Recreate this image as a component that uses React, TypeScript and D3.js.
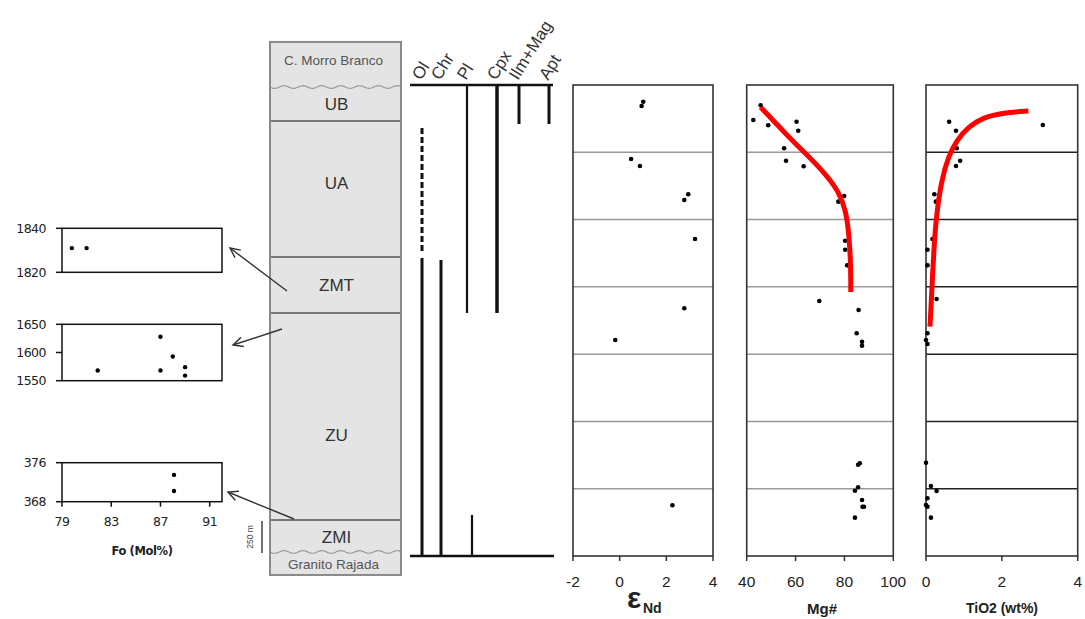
import React from 'react';
import * as d3 from 'd3';

// ---------- DATA ----------
// stratigraphic units (heights in m)
const unitNames = ['C. Morro Branco', 'UB', 'UA', 'ZMT', 'ZU', 'ZMI', 'Granito Rajada'];
const unitTops = [3820, 3485, 3232, 2222, 1806, 268, 30];
const unitBottoms = [3485, 3232, 2222, 1806, 268, 30, -141];

// mineral occurrence segments
const minerals = ['Ol', 'Chr', 'Pl', 'Cpx', 'Ilm+Mag', 'Apt'];
const segMineral = ['Ol', 'Ol', 'Chr', 'Pl', 'Pl', 'Cpx', 'Ilm+Mag', 'Apt'];
const segTop = [3180, 2214, 2200, 3500, 305, 3500, 3500, 3500];
const segBottom = [2259, 0, 0, 1806, 0, 1806, 3210, 3210];
const segDashed = [true, false, false, false, false, false, false, false];

// eps Nd
const ndValue = [1.01, 0.94, 0.49, 0.87, 2.94, 2.77, 3.23, 2.77, -0.19, 2.26];
const ndHeight = [3376, 3344, 2950, 2898, 2688, 2645, 2356, 1841, 1605, 377];

// Mg#
const mgValue = [45.7, 42.7, 48.8, 60.4, 61.1, 55.3, 56.1, 63.3, 77.5, 79.9, 80.3, 80.3, 81.1, 69.7, 85.8, 85.0, 87.2, 87.2, 86.3, 85.6, 85.6, 84.3, 87.2, 87.4, 88.0, 84.3];
const mgHeight = [3349, 3240, 3201, 3227, 3160, 3030, 2937, 2896, 2633, 2675, 2343, 2276, 2160, 1895, 1828, 1655, 1592, 1563, 689, 678, 511, 485, 416, 366, 366, 285];
const mgTrendValue = [45.7, 56.9, 63.9, 72.0, 77.6, 80.7, 81.9, 82.5, 82.6, 82.6];
const mgTrendHeight = [3335, 3120, 2994, 2845, 2712, 2563, 2377, 2192, 2050, 1961];

// TiO2
const tiValue = [0.61, 0.79, 3.08, 0.81, 0.90, 0.79, 0.22, 0.26, 0.17, 0.04, 0.04, 0.28, 0.04, 0.0, 0.04, 0.0, 0.13, 0.28, 0.04, 0.0, 0.04, 0.13];
const tiHeight = [3227, 3160, 3203, 3030, 2937, 2898, 2688, 2633, 2356, 2276, 2160, 1910, 1655, 1605, 1575, 693, 520, 483, 429, 379, 366, 285];
const tiTrendValue = [0.105, 0.15, 0.21, 0.28, 0.41, 0.59, 0.81, 1.12, 1.51, 2.04, 2.70];
const tiTrendHeight = [1704, 1952, 2299, 2547, 2794, 2968, 3091, 3190, 3260, 3294, 3307];

// Fo (Mol%) insets
const foTicks = [79, 83, 87, 91];
const foTopFo = [79.8, 81.0];
const foTopH = [1831, 1831];
const foTopTicks = [1840, 1820];
const foMidFo = [81.9, 87.0, 87.0, 88.0, 89.0, 89.0];
const foMidH = [1568, 1628, 1568, 1593, 1574, 1559];
const foMidTicks = [1650, 1600, 1550];
const foBotFo = [88.1, 88.1];
const foBotH = [373.5, 370.2];
const foBotTicks = [376, 368];

const ndTicks = [-2, 0, 2, 4];
const mgTicks = [40, 60, 80, 100];
const tiTicks = [0, 2, 4];
const gridHeights = [500, 1000, 1500, 2000, 2500, 3000];

// ---------- LAYOUT ----------
const Y = d3.scaleLinear().domain([0, 3500]).range([556, 85]);
const colLeft = 270, colRight = 401;
const unitLabelY = [64.5, 110, 189, 291, 441, 542.5, 568.5];
const mineralX = d3.scaleOrdinal<string, number>().domain(minerals).range([422, 441, 467, 497, 519, 549]);
const mineralWidth: Record<string, number> = { Ol: 3, Chr: 3, Pl: 2.2, Cpx: 3.5, 'Ilm+Mag': 3, Apt: 3 };

const FONT = "'Liberation Sans', Arial, sans-serif";

function wavy(x0: number, x1: number, y: number) {
  const pts: [number, number][] = [];
  for (let x = x0; x <= x1; x += 1) pts.push([x, y + 1.3 * Math.sin((x - x0) / 3)]);
  return d3.line()(pts) || '';
}

function Arrow({ x1, y1, x2, y2 }: { x1: number; y1: number; x2: number; y2: number }) {
  const a = Math.atan2(y1 - y2, x1 - x2);
  const L = 11, sp = 0.45;
  const p1 = [x2 + L * Math.cos(a + sp), y2 + L * Math.sin(a + sp)];
  const p2 = [x2 + L * Math.cos(a - sp), y2 + L * Math.sin(a - sp)];
  return (
    <g stroke="#333" strokeWidth={1.4} fill="none">
      <line x1={x1} y1={y1} x2={x2} y2={y2} />
      <polyline points={`${p1[0]},${p1[1]} ${x2},${y2} ${p2[0]},${p2[1]}`} />
    </g>
  );
}

function RightPanel(props: {
  x0: number; x1: number; domain: [number, number]; ticks: number[];
  vals: number[]; hs: number[]; gridColor: string;
  trendV?: number[]; trendH?: number[];
}) {
  const { x0, x1, domain, ticks, vals, hs, gridColor, trendV, trendH } = props;
  const x = d3.scaleLinear().domain(domain).range([x0, x1]);
  const line = d3.line<number>().x((_, i) => x(trendV![i])).y((_, i) => Y(trendH![i])).curve(d3.curveBasis);
  return (
    <g>
      <rect x={x0} y={Y(3500)} width={x1 - x0} height={Y(0) - Y(3500)} fill="#fff" />
      {gridHeights.map((h) => (
        <line key={h} x1={x0} x2={x1} y1={Y(h)} y2={Y(h)} stroke={gridColor} strokeWidth={1.5} />
      ))}
      <rect x={x0} y={Y(3500)} width={x1 - x0} height={Y(0) - Y(3500)} fill="none" stroke="#333" strokeWidth={1.6} />
      {ticks.map((t) => (
        <g key={t}>
          <line x1={x(t)} x2={x(t)} y1={Y(0)} y2={Y(0) + 5} stroke="#333" strokeWidth={1.5} />
          <text x={x(t)} y={587} textAnchor="middle" fontSize={15.5} fontFamily={FONT} fill="#222">{t}</text>
        </g>
      ))}
      {vals.map((v, i) => (
        <circle key={i} cx={x(v)} cy={Y(hs[i])} r={2.3} fill="#000" />
      ))}
      {trendV && trendH && (
        <path d={line(trendV) || ''} fill="none" stroke="#ff0000" strokeWidth={5} strokeLinecap="butt" />
      )}
    </g>
  );
}

function FoPanel(props: { top: number; bottom: number; domain: [number, number]; ticks: number[]; fo: number[]; h: number[]; xAxis?: boolean }) {
  const { top, bottom, domain, ticks, fo, h, xAxis } = props;
  const x = d3.scaleLinear().domain([79, 92]).range([62, 222]);
  const y = d3.scaleLinear().domain(domain).range([bottom, top]);
  return (
    <g>
      <rect x={62} y={top} width={160} height={bottom - top} fill="#fff" stroke="#111" strokeWidth={1.5} />
      {ticks.map((t) => (
        <g key={t}>
          <line x1={56} x2={62} y1={y(t)} y2={y(t)} stroke="#111" strokeWidth={1.5} />
          <text x={46} y={y(t) + 4.5} textAnchor="end" fontSize={12.5} fontFamily="'DejaVu Sans', sans-serif" fill="#222" letterSpacing={-0.5}>{t}</text>
        </g>
      ))}
      {xAxis && foTicks.map((t) => (
        <g key={t}>
          <line x1={x(t)} x2={x(t)} y1={bottom} y2={bottom + 5} stroke="#111" strokeWidth={1.5} />
          <text x={x(t)} y={526} textAnchor="middle" fontSize={12.5} fontFamily="'DejaVu Sans', sans-serif" fill="#222" letterSpacing={-0.5}>{t}</text>
        </g>
      ))}
      {fo.map((v, i) => (
        <circle key={i} cx={x(v)} cy={y(h[i])} r={2.2} fill="#000" />
      ))}
    </g>
  );
}

export default function App() {
  return (
    <svg width={1085} height={619} style={{ position: 'absolute', left: 0, top: 0, background: '#fff' }} fontFamily={FONT}>
      <rect x={0} y={0} width={1085} height={619} fill="#fff" />

      {/* Fo insets */}
      <FoPanel top={228.3} bottom={272.3} domain={[1820, 1840]} ticks={foTopTicks} fo={foTopFo} h={foTopH} />
      <FoPanel top={324.3} bottom={380.7} domain={[1550, 1650]} ticks={foMidTicks} fo={foMidFo} h={foMidH} />
      <FoPanel top={462.7} bottom={501.7} domain={[368, 376]} ticks={foBotTicks} fo={foBotFo} h={foBotH} xAxis />
      <text x={142} y={555} textAnchor="middle" fontSize={11.5} fontWeight="bold" fontFamily="'DejaVu Sans', sans-serif" fill="#222" letterSpacing={-0.4}>Fo (Mol%)</text>

      {/* Stratigraphic column */}
      <g>
        {unitNames.map((n, i) => {
          const yt = Y(unitTops[i]);
          const yb = Y(unitBottoms[i]);
          return <rect key={n} x={colLeft} y={yt} width={colRight - colLeft} height={yb - yt} fill="#e4e4e4" />;
        })}
        {[2, 3, 4, 5].map((i) => (
          <line key={i} x1={colLeft} x2={colRight} y1={Y(unitTops[i])} y2={Y(unitTops[i])} stroke="#777" strokeWidth={2} />
        ))}
        <path d={wavy(colLeft, colRight, Y(unitTops[1]))} fill="none" stroke="#999" strokeWidth={1.2} />
        <path d={wavy(colLeft, colRight, Y(unitTops[6]))} fill="none" stroke="#999" strokeWidth={1.2} />
        <rect x={colLeft} y={Y(unitTops[0])} width={colRight - colLeft} height={Y(unitBottoms[6]) - Y(unitTops[0])} fill="none" stroke="#8a8a8a" strokeWidth={2} />
        {unitNames.map((n, i) => {
          const small = i === 0 || i === 6;
          return (
            <text key={n} x={(colLeft + colRight) / 2 + (small ? -2 : 1)} y={unitLabelY[i]} textAnchor="middle"
              fontSize={small ? 13.5 : 17} fill={small ? '#555' : '#333'}>{n}</text>
          );
        })}
        {/* 250 m scale bar */}
        <line x1={262} x2={262} y1={521} y2={553} stroke="#444" strokeWidth={1.5} />
        <text transform="translate(253,537) rotate(-90)" textAnchor="middle" fontSize={8.5} fill="#444">250 m</text>
      </g>

      {/* Arrows */}
      <Arrow x1={287} y1={291} x2={230} y2={248} />
      <Arrow x1={282} y1={329} x2={233} y2={345} />
      <Arrow x1={294} y1={519} x2={228} y2={492} />

      {/* Mineral columns */}
      <g>
        <line x1={410} x2={553} y1={Y(3500)} y2={Y(3500)} stroke="#111" strokeWidth={2.5} />
        <line x1={410} x2={554} y1={Y(0)} y2={Y(0)} stroke="#111" strokeWidth={2.5} />
        {segMineral.map((m, i) => {
          const xOff = m === 'Pl' && segTop[i] < 1000 ? 5 : 0;
          return (
            <line key={i} x1={mineralX(m) + xOff} x2={mineralX(m) + xOff} y1={Y(segTop[i])} y2={Y(segBottom[i])}
              stroke="#111" strokeWidth={mineralWidth[m]} strokeDasharray={segDashed[i] ? '6,3' : undefined} />
          );
        })}
        {minerals.map((m) => (
          <text key={m} transform={`translate(${mineralX(m) - 1},81) rotate(-58)`} fontSize={17} fill="#333">{m}</text>
        ))}
      </g>

      {/* Right panels */}
      <RightPanel x0={573} x1={713} domain={[-2, 4]} ticks={ndTicks} vals={ndValue} hs={ndHeight} gridColor="#999" />
      <RightPanel x0={746.7} x1={893.3} domain={[40, 100]} ticks={mgTicks} vals={mgValue} hs={mgHeight} gridColor="#999"
        trendV={mgTrendValue} trendH={mgTrendHeight} />
      <RightPanel x0={926} x1={1077.7} domain={[0, 4]} ticks={tiTicks} vals={tiValue} hs={tiHeight} gridColor="#222"
        trendV={tiTrendValue} trendH={tiTrendHeight} />

      {/* Axis titles */}
      <text x={634} y={608} textAnchor="middle" fontSize={30} fontWeight="bold" fill="#222">ε</text>
      <text x={643} y={613} fontSize={14} fontWeight="bold" fill="#222">Nd</text>
      <text x={822} y={614} textAnchor="middle" fontSize={15} fontWeight="bold" fill="#222">Mg#</text>
      <text x={1002} y={613} textAnchor="middle" fontSize={14} fontWeight="bold" fill="#222">TiO2 (wt%)</text>
    </svg>
  );
}
